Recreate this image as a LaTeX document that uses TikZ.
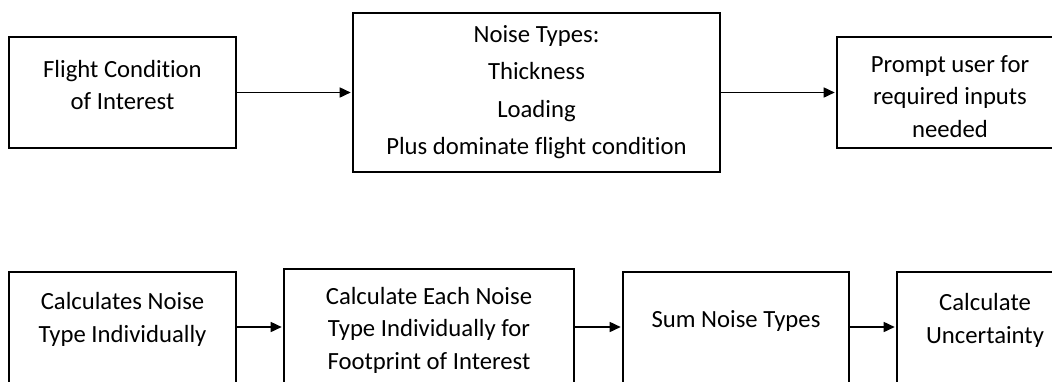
\documentclass[tikz,border=0pt]{standalone}
\usepackage{fontspec}
\setmainfont{Carlito}[Ligatures=NoCommon]
\usetikzlibrary{arrows.meta}
\begin{document}
\begin{tikzpicture}[x=1pt,y=-1pt,
  box/.style={draw,line width=2.4pt,inner sep=0pt},
  lbl/.style={anchor=base,inner sep=0pt,font=\fontsize{24.7}{30}\selectfont},
  conn/.style={line width=1.6pt,-{Triangle[length=11pt,width=10pt]},shorten >=1.1pt}]
\useasboundingbox (0,0) rectangle (1052,381);
% top row boxes
\node[box,minimum width=227pt,minimum height=111pt] (b1) at (122.5,92.5) {};
\node[box,minimum width=367pt,minimum height=159pt] (b2) at (536.5,92.5) {};
\node[box,minimum width=226pt,minimum height=111pt] (b3) at (950,92.5) {};
% bottom row boxes
\node[box,minimum width=227pt,minimum height=128pt] (bA) at (122.5,336) {};
\node[box,minimum width=290pt,minimum height=131pt] (bB) at (429,334.5) {};
\node[box,minimum width=226pt,minimum height=128pt] (bC) at (736,336) {};
\node[box,minimum width=176pt,minimum height=128pt] (bD) at (985,336) {};
% texts
\node[lbl] (t1a) at (122.5,77) {Flight Condition};
\node[lbl] (t1b) at (122.5,109) {of Interest};
\node[lbl] (t2a) at (536.5,42.5) {Noise Types:};
\node[lbl] (t2b) at (536.5,79.5) {Thickness};
\node[lbl] (t2c) at (536.5,117) {Loading};
\node[lbl] (t2d) at (536.5,154) {Plus dominate flight condition};
\node[lbl] (t3a) at (950,72) {Prompt user for};
\node[lbl] (t3b) at (950,104.5) {required inputs};
\node[lbl] (t3c) at (950,137) {needed};
\node[lbl] (tAa) at (122.5,309) {Calculates Noise};
\node[lbl] (tAb) at (122.5,342) {Type Individually};
\node[lbl] (tBa) at (429,304) {Calculate Each Noise};
\node[lbl] (tBb) at (429,336.5) {Type Individually for};
\node[lbl] (tBc) at (429,369) {Footprint of Interest};
\node[lbl] (tC) at (736,327) {Sum Noise Types};
\node[lbl] (tDa) at (985,310) {Calculate};
\node[lbl] (tDb) at (985,343) {Uncertainty};
% connectors
\coordinate (row2) at (0,327);
\draw[conn] (b1.east) -- (b2.west);
\draw[conn] (b2.east) -- (b3.west);
\draw[conn] (bA.east |- row2) -- (bB.west |- row2);
\draw[conn] (bB.east |- row2) -- (bC.west |- row2);
\draw[conn] (bC.east |- row2) -- (bD.west |- row2);
\end{tikzpicture}
\end{document}
